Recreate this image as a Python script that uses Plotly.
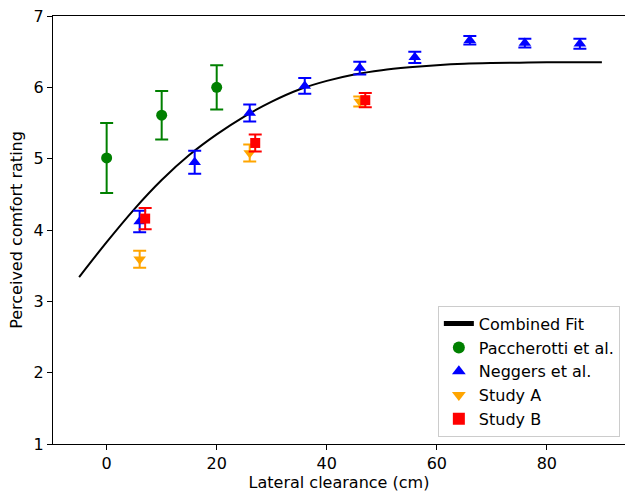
import plotly.graph_objects as go

# Fit curve
fit_x = [-5, 0, 5, 10, 15, 20, 25, 30, 35, 40, 45, 50, 55, 60, 65, 70, 75, 80, 85, 90]
fit_y = [3.34, 3.83, 4.29, 4.70, 5.05, 5.34, 5.59, 5.80, 5.97, 6.09, 6.18, 6.24, 6.28, 6.31,
         6.33, 6.34, 6.345, 6.35, 6.35, 6.35]

pacc_x = [0, 10, 20]
pacc_y = [5.01, 5.61, 6.0]
pacc_err = [0.49, 0.34, 0.31]

negg_x = [6, 16, 26, 36, 46, 56, 66, 76, 86]
negg_y = [4.12, 4.95, 5.64, 6.02, 6.27, 6.42, 6.66, 6.62, 6.61]
negg_err = [0.15, 0.16, 0.12, 0.11, 0.09, 0.08, 0.06, 0.06, 0.07]

studyA_x = [6, 26, 46]
studyA_y = [3.59, 5.08, 5.80]
studyA_err = [0.12, 0.12, 0.07]

studyB_x = [7, 27, 47]
studyB_y = [4.16, 5.22, 5.82]
studyB_err = [0.15, 0.12, 0.10]

font = dict(family="DejaVu Sans", size=16, color="black")

fig = go.Figure()
fig.add_trace(go.Scatter(x=fit_x, y=fit_y, mode="lines", name="Combined Fit",
                         line=dict(color="black", width=2, shape="spline", smoothing=1.0)))

def add_err(x, y, e, color, symbol, name, size=11):
    fig.add_trace(go.Scatter(
        x=x, y=y, mode="markers", name=name,
        marker=dict(color=color, symbol=symbol, size=size),
        error_y=dict(type="data", array=e, visible=True, color=color, thickness=2, width=6.5)))

add_err(pacc_x, pacc_y, pacc_err, "#008000", "circle", "Paccherotti et al.", 11)
add_err(negg_x, negg_y, negg_err, "#0000ff", "triangle-up", "Neggers et al.", 11)
add_err(studyA_x, studyA_y, studyA_err, "#ffa500", "triangle-down", "Study A", 11)
add_err(studyB_x, studyB_y, studyB_err, "#ff0000", "square", "Study B", 10)

fig.update_layout(
    width=625, height=497,
    margin=dict(l=53, r=0, t=16, b=53),
    plot_bgcolor="white", paper_bgcolor="white",
    font=font,
    showlegend=True,
    legend=dict(x=0.991, y=0.017, xanchor="right", yanchor="bottom",
                bgcolor="rgba(255,255,255,0.8)", bordercolor="#cccccc", borderwidth=1,
                font=font, tracegroupgap=0, itemsizing="constant"),
)
fig.update_xaxes(range=[-9.75, 94.2], tickvals=[0, 20, 40, 60, 80],
                 showline=True, linecolor="black", linewidth=1.3, mirror=True,
                 ticks="outside", ticklen=5, tickwidth=1.3, tickcolor="black",
                 showgrid=False, zeroline=False,
                 title=dict(text="Lateral clearance (cm)", font=font, standoff=2),
                 tickfont=font)
fig.update_yaxes(range=[1, 7], tickvals=[1, 2, 3, 4, 5, 6, 7],
                 showline=True, linecolor="black", linewidth=1.3,
                 ticks="outside", ticklen=5, tickwidth=1.3, tickcolor="black",
                 showgrid=False, zeroline=False,
                 title=dict(text="Perceived comfort rating", font=font, standoff=6),
                 tickfont=font)

fig.write_html("out.html")
